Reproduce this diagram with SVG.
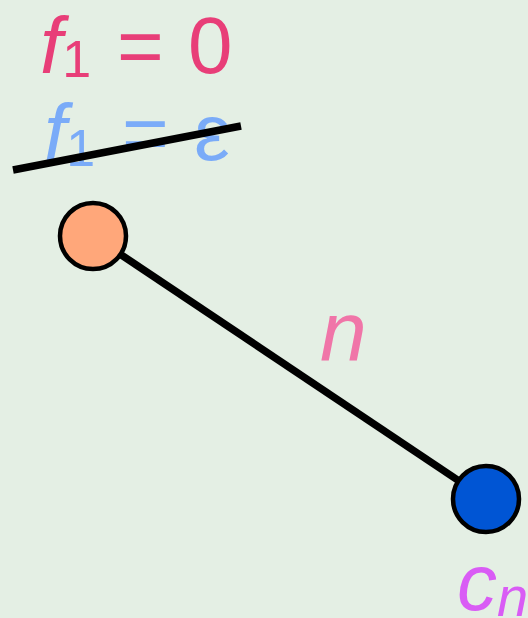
<svg xmlns="http://www.w3.org/2000/svg" width="528" height="618" viewBox="0 0 528 618">
<style>
.t{font-family:"Liberation Sans",Arial,sans-serif;}
.i{font-style:italic;}
.node{stroke:#000;stroke-width:4.5;}
.edge{stroke:#000;stroke-width:7.5;fill:none;}
</style>
<rect width="528" height="618" fill="#e4efe4"/>
<g id="label-f1-0" class="t" fill="#e83e78" font-size="80">
<text x="40" y="73"><tspan class="i">f</tspan><tspan font-size="52" y="77">1</tspan><tspan x="117" y="73">=</tspan><tspan x="188">0</tspan></text>
</g>
<g id="label-f1-eps" class="t" fill="#7aabf8" font-size="80">
<text x="44" y="160"><tspan class="i">f</tspan><tspan font-size="52" y="166">1</tspan><tspan x="122" y="160">=</tspan><tspan x="194">ε</tspan></text>
</g>
<g id="connectors">
<line class="edge" x1="93" y1="236" x2="486" y2="499"/>
<line class="edge" x1="13" y1="170" x2="241" y2="126"/>
</g>
<g id="node-orange"><circle class="node" cx="93" cy="236" r="33" fill="#ffa77a"/></g>
<g id="node-blue"><circle class="node" cx="486" cy="499" r="33" fill="#0055d4"/></g>
<g id="label-n" class="t i" fill="#f075a8" font-size="84"><text x="320" y="360">n</text></g>
<g id="label-cn" class="t i" fill="#d95cf5" font-size="80"><text x="457" y="610">c<tspan font-size="56" y="616">n</tspan></text></g>
</svg>
